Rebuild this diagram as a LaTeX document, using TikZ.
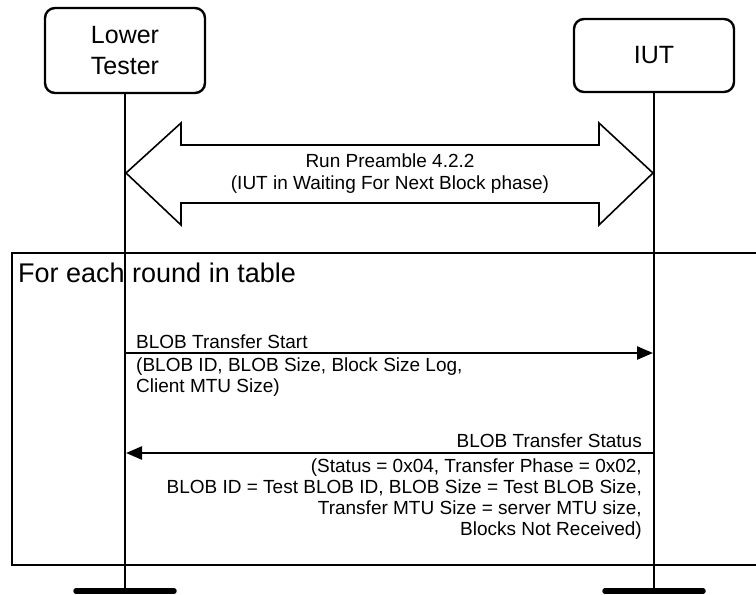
\documentclass[tikz,border=0pt]{standalone}
\usepackage{fontspec}
\setmainfont{Liberation Sans}
\usetikzlibrary{arrows.meta}

\begin{document}
\begin{tikzpicture}[x=1pt,y=-1pt,
	actor_box/.style={draw,line width=2.4pt,rounded corners=10pt,minimum width=160pt,align=center,inner sep=0pt,font=\fontsize{25}{31}\selectfont},
	life_line/.style={line width=2.4pt},
	end_bar/.style={line width=5.5pt,line cap=round},
	big_arrow/.style={line width=1.6pt,line join=miter},
	msg_arrow/.style={line width=2.4pt,-{Triangle[length=16pt,width=13pt]}},
	msg_text/.style={inner sep=0pt,font=\fontsize{19}{21}\selectfont},
	loop_frame/.style={line width=2.4pt}]

		\useasboundingbox (0,0) rectangle (756,595);

		\node[actor_box,minimum height=85pt] (lt) at (125,50.5) {Lower\\Tester};
		\node[actor_box,minimum height=73pt] (iut) at (654,55.5) {IUT};

		\coordinate (lt_end) at (125,591);
		\coordinate (iut_end) at (654,591);

		\draw[life_line] (lt) -- (lt_end);
		\draw[life_line] (iut) -- (iut_end);
		\draw[end_bar] ([xshift=-49pt]lt_end) -- ([xshift=49pt]lt_end);
		\draw[end_bar] ([xshift=-49pt]iut_end) -- ([xshift=49pt]iut_end);

		% preamble
		\draw[big_arrow] (126,173) -- (181,123) -- (181,145) -- (599,145) -- (599,123) -- (653,173)
			-- (599,225) -- (599,203) -- (181,203) -- (181,225) -- cycle;
		\node[inner sep=0pt,align=center,font=\fontsize{19}{22}\selectfont] (preamble) at (390,174)
			{Run Preamble 4.2.2\\(IUT in Waiting For Next Block phase)};

		% loop
		\draw[loop_frame] (780,253) -- (12,253) -- (12,565) -- (780,565);
		\node[anchor=base west,inner sep=0pt,font=\fontsize{27}{30}\selectfont] (loop_label) at (18,282) {For each round in table};

		\coordinate (m1_from) at (126,353);
		\coordinate (m1_to) at (653,353);
		\draw[msg_arrow] (m1_from) -- (m1_to);
		\node[msg_text,anchor=base west] (m1_name) at (136,348) {BLOB Transfer Start};
		\node[msg_text,anchor=north west,align=left] (m1_par) at (136,358) {(BLOB ID, BLOB Size, Block Size Log,\\Client MTU Size)};

		\coordinate (m2_from) at (654,453);
		\coordinate (m2_to) at (126,453);
		\draw[msg_arrow] (m2_from) -- (m2_to);
		\node[msg_text,anchor=base east] (m2_name) at (642,447) {BLOB Transfer Status};
		\node[msg_text,anchor=north east,align=right] (m2_par) at (642,459) {(Status = 0x04, Transfer Phase = 0x02,\\BLOB ID = Test BLOB ID, BLOB Size = Test BLOB Size,\\Transfer MTU Size = server MTU size,\\Blocks Not Received)};
		\end{tikzpicture}
\end{document}
